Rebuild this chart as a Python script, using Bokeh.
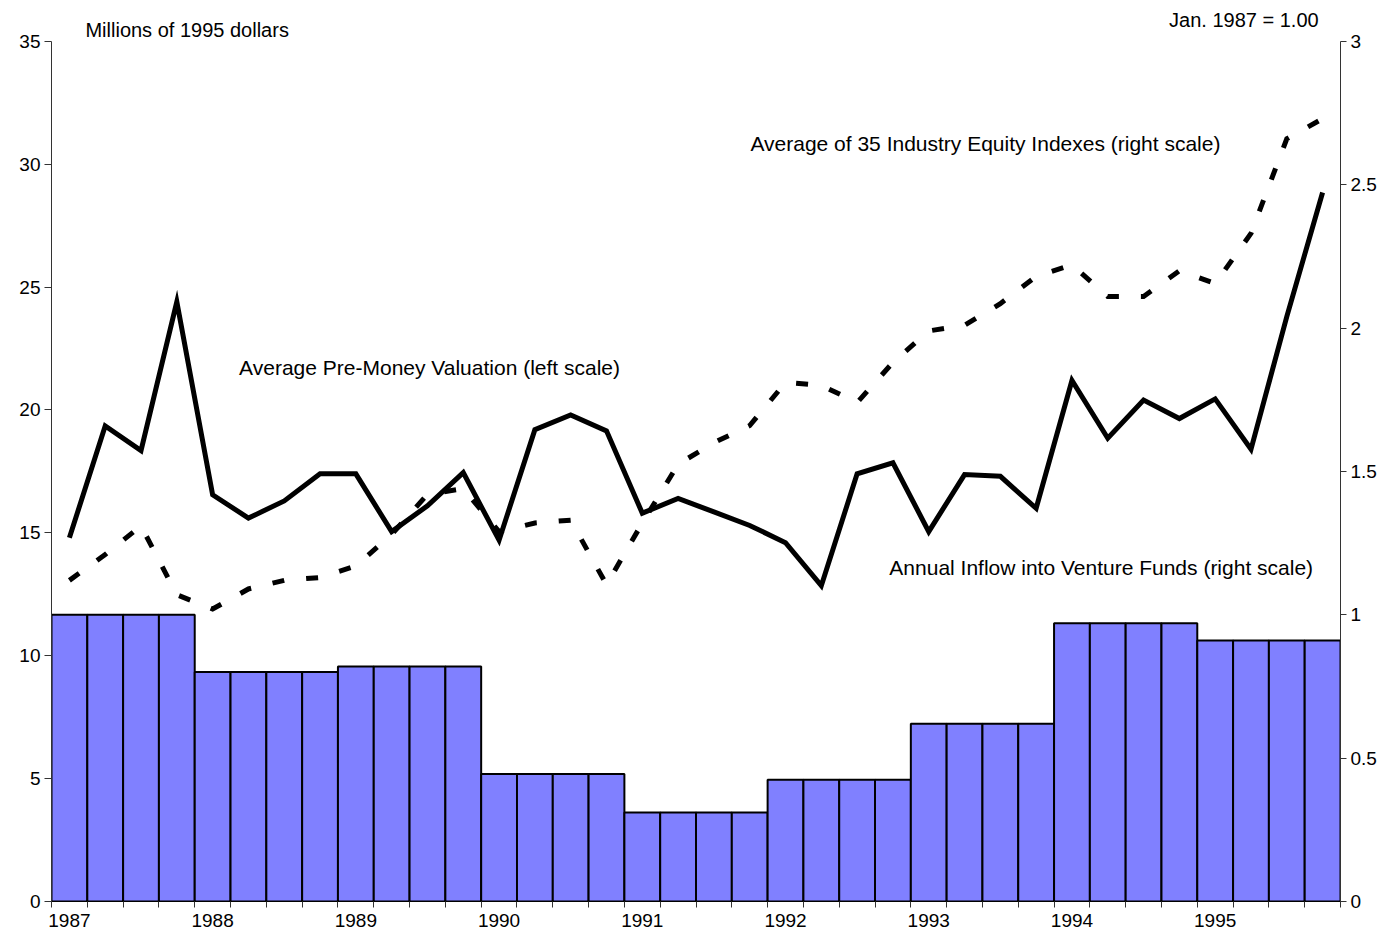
from bokeh.plotting import figure
from bokeh.models import Range1d, LinearAxis, FixedTicker, Label
from bokeh.embed import file_html
from bokeh.resources import INLINE

# ---- data ----
years = ["1987", "1988", "1989", "1990", "1991", "1992", "1993", "1994", "1995"]
# Annual inflow into venture funds (right scale), one value per year, drawn per quarter
annual_inflow = [1.00, 0.80, 0.82, 0.445, 0.31, 0.425, 0.62, 0.97, 0.91]
# Average pre-money valuation (left scale, millions of 1995 dollars), quarterly
pre_money = [14.8, 19.35, 18.35, 24.4, 16.55, 15.6, 16.3, 17.4, 17.4, 15.05, 16.1, 17.45,
             14.7, 19.2, 19.8, 19.15, 15.8, 16.4, 15.85, 15.3, 14.6, 12.85, 17.4, 17.85,
             15.05, 17.37, 17.3, 16.0, 21.2, 18.85, 20.4, 19.65, 20.45, 18.4, 23.8, 28.85]
# Average of 35 industry equity indexes (right scale, Jan. 1987 = 1.00), quarterly
equity_index = [1.12, 1.21, 1.31, 1.07, 1.02, 1.09, 1.12, 1.13, 1.17, 1.28, 1.42, 1.44,
                1.29, 1.32, 1.33, 1.105, 1.32, 1.525, 1.60, 1.66, 1.81, 1.80, 1.74, 1.88,
                1.99, 2.01, 2.085, 2.18, 2.22, 2.11, 2.11, 2.20, 2.155, 2.33, 2.66, 2.73]

n_q = len(pre_money)
q_centers = [i + 0.5 for i in range(n_q)]
inflow_q = [v for v in annual_inflow for _ in range(4)]

FONT = "Liberation Sans"
LEFT_MAX, RIGHT_MAX = 35, 3
# extra headroom above the top tick so that the header texts sit inside the frame
TOP = 36.66

p = figure(width=1379, height=929, x_range=Range1d(0, n_q), y_range=Range1d(0, TOP),
           output_backend="svg", toolbar_location=None,
           x_axis_type=None, y_axis_type=None,
           min_border_left=51, min_border_right=37, min_border_top=0, min_border_bottom=22,
           outline_line_color=None, background_fill_color="white", border_fill_color="white")
p.extra_y_ranges = {"right": Range1d(0, TOP * RIGHT_MAX / LEFT_MAX)}
p.xgrid.visible = False
p.ygrid.visible = False

# bars
p.vbar(x=q_centers, top=inflow_q, width=1.0, bottom=0, y_range_name="right",
       fill_color="#8080FF", line_color="black", line_width=2)

# dashed equity index line
p.line(q_centers, equity_index, y_range_name="right", line_color="black",
       line_width=5, line_dash="12 22", line_join="miter")
# solid pre-money valuation line
p.line(q_centers, pre_money, line_color="black", line_width=5, line_join="miter")

# axes
left = LinearAxis(ticker=FixedTicker(ticks=list(range(0, 36, 5))), bounds=(0, LEFT_MAX))
left.major_tick_out = 7
left.major_tick_in = 0
left.minor_tick_out = 0
left.axis_line_color = "#333333"
left.major_tick_line_color = "#333333"
left.major_label_text_font = FONT
left.major_label_text_font_size = "19px"
left.major_label_text_color = "black"
left.major_label_standoff = 4
p.add_layout(left, "left")

right_ticks = [0, 0.5, 1, 1.5, 2, 2.5, 3]
right = LinearAxis(y_range_name="right", ticker=FixedTicker(ticks=right_ticks),
                   bounds=(0, RIGHT_MAX))
right.major_tick_out = 6
right.major_tick_in = 0
right.minor_tick_out = 0
right.axis_line_color = "#333333"
right.major_tick_line_color = "#333333"
right.major_label_text_font = FONT
right.major_label_text_font_size = "19px"
right.major_label_text_color = "black"
right.major_label_standoff = 4
right.major_label_overrides = {0: "0", 0.5: "0.5", 1: "1", 1.5: "1.5", 2: "2", 2.5: "2.5", 3: "3"}
p.add_layout(right, "right")

year_pos = [4 * k + 0.5 for k in range(len(years))]
bottom = LinearAxis(ticker=FixedTicker(ticks=year_pos, minor_ticks=list(range(n_q + 1))))
bottom.major_tick_out = 0
bottom.major_tick_in = 0
bottom.minor_tick_out = 6
bottom.minor_tick_in = 0
bottom.axis_line_color = "black"
bottom.axis_line_width = 1
bottom.minor_tick_line_color = "#333333"
bottom.major_label_text_font = FONT
bottom.major_label_text_font_size = "19px"
bottom.major_label_text_color = "black"
bottom.major_label_standoff = 6
bottom.major_label_overrides = {pos: y for pos, y in zip(year_pos, years)}
p.add_layout(bottom, "below")

# annotations
def add_label(x, y, text, size="21px", align="left"):
    p.add_layout(Label(x=x, y=y, text=text, text_font=FONT, text_font_size=size,
                       text_color="black", text_align=align, text_baseline="middle"))

add_label(0.948, 35.44, "Millions of 1995 dollars", size="20px")
add_label(35.39, 35.85, "Jan. 1987 = 1.00", size="20px", align="right")
add_label(19.52, 30.84, "Average of 35 Industry Equity Indexes (right scale)")
add_label(5.24, 21.74, "Average Pre-Money Valuation (left scale)")
add_label(23.40, 13.58, "Annual Inflow into Venture Funds (right scale)")

open("out.html", "w").write(file_html(p, INLINE))
